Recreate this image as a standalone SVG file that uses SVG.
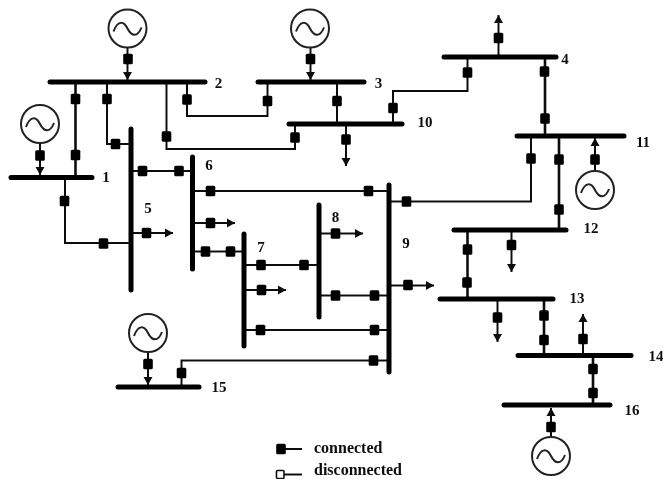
<svg xmlns="http://www.w3.org/2000/svg" xmlns:xlink="http://www.w3.org/1999/xlink" width="663" height="479" viewBox="0 0 663 479">
<style>
.bus{stroke:#000;stroke-width:5;stroke-linecap:round;fill:none}
.ln{stroke:#111;stroke-width:2;fill:none}
.ln2{stroke:#111;stroke-width:2.6;fill:none}
.ar{stroke:#111;stroke-width:2;fill:none;marker-end:url(#ah)}
.sw{fill:#000}
.gc{fill:#fff;stroke:#222;stroke-width:2}
.gw{fill:none;stroke:#222;stroke-width:2}
text{font-family:"Liberation Serif","Times New Roman",serif;font-weight:bold;font-size:15px;fill:#111;text-anchor:middle;dominant-baseline:central}
.lg{font-size:16px;text-anchor:start;dominant-baseline:alphabetic}
</style>
<defs>
<marker id="ah" markerUnits="userSpaceOnUse" markerWidth="10" markerHeight="10" refX="9" refY="5" orient="auto"><path d="M1,0.5 L9,5 L1,9.5 Z" fill="#111"/></marker>
<rect id="s" class="sw" x="-4.8" y="-5.2" width="9.6" height="10.4" rx="1.5"/>
<g id="g"><circle class="gc" r="19"/><path class="gw" d="M-14,3 C-10,-8 -4,-8 0,0 S10,9 14,-1"/></g>
<filter id="b" x="-2%" y="-2%" width="104%" height="104%"><feGaussianBlur stdDeviation="0.55"/></filter>
</defs>
<rect width="663" height="479" fill="#fff"/>
<g filter="url(#b)">
<g id="connectors">
<path class="ar" d="M127.5,47V80"/><path class="ar" d="M310.5,47V80"/><path class="ar" d="M40,143V175"/>
<path class="ln2" d="M75.5,82V177"/>
<path class="ln" d="M107,82V144H131"/>
<path class="ln" d="M187,82V116H267.5V82"/>
<path class="ln" d="M166.5,82V149H295V124"/>
<path class="ln" d="M65,177V243H131"/>
<path class="ln" d="M131,171H192"/>
<path class="ar" d="M131,233H173"/>
<path class="ln" d="M192,191H389"/>
<path class="ar" d="M192,223H235"/>
<path class="ln" d="M192,251.5H244"/>
<path class="ln" d="M244,265H319"/>
<path class="ar" d="M244,290H286"/>
<path class="ln" d="M244,330H389"/>
<path class="ar" d="M319,233.5H363"/>
<path class="ln" d="M319,295.5H389"/>
<path class="ar" d="M389,285.5H434"/>
<path class="ln" d="M389,201.5H531V136"/>
<path class="ln2" d="M559,136V230"/>
<path class="ar" d="M595,171V138"/>
<path class="ln2" d="M545,57V136"/>
<path class="ln" d="M467.5,57V91H393V124"/>
<path class="ar" d="M498.5,57V15"/>
<path class="ln" d="M337,82V124"/>
<path class="ar" d="M346,124V166"/>
<path class="ln" d="M389,360.5H181.5V387"/>
<path class="ar" d="M148,352V385"/>
<path class="ln2" d="M467.5,230V299"/>
<path class="ar" d="M511.5,230V272"/>
<path class="ar" d="M497.5,299V342"/>
<path class="ln2" d="M544,299V355"/>
<path class="ar" d="M583,355V314"/>
<path class="ln2" d="M593,355V405"/>
<path class="ar" d="M551,437V408"/>
<use href="#s" x="128" y="59"/><use href="#s" x="310.5" y="59"/><use href="#s" x="40" y="155.5"/>
<use href="#s" x="75.5" y="99"/><use href="#s" x="75.5" y="155"/>
<use href="#s" x="107" y="99"/><use href="#s" x="115.5" y="144"/>
<use href="#s" x="187" y="99.5"/><use href="#s" x="267.5" y="101"/>
<use href="#s" x="166.5" y="136.5"/><use href="#s" x="295" y="137.5"/>
<use href="#s" x="64.5" y="201"/><use href="#s" x="103.5" y="243.5"/>
<use href="#s" x="142.5" y="171"/><use href="#s" x="179" y="171"/>
<use href="#s" x="146.5" y="233"/>
<use href="#s" x="210.5" y="191"/><use href="#s" x="368.5" y="191"/>
<use href="#s" x="210.5" y="223"/>
<use href="#s" x="205.5" y="251.5"/><use href="#s" x="230.5" y="251.5"/>
<use href="#s" x="261" y="265"/><use href="#s" x="304" y="265"/>
<use href="#s" x="261.5" y="290"/>
<use href="#s" x="260.5" y="330"/><use href="#s" x="374.5" y="330"/>
<use href="#s" x="335.5" y="233.5"/>
<use href="#s" x="335.5" y="295.5"/><use href="#s" x="374.5" y="295.5"/>
<use href="#s" x="408" y="285"/>
<use href="#s" x="406.5" y="201.5"/><use href="#s" x="531" y="158.5"/>
<use href="#s" x="559" y="159.5"/><use href="#s" x="559" y="209.5"/>
<use href="#s" x="595" y="159.5"/>
<use href="#s" x="544.5" y="71.5"/><use href="#s" x="545" y="118.5"/>
<use href="#s" x="467.5" y="72.5"/><use href="#s" x="393" y="108"/>
<use href="#s" x="498.5" y="38"/>
<use href="#s" x="337" y="101"/><use href="#s" x="346" y="139.5"/>
<use href="#s" x="373.5" y="360.5"/><use href="#s" x="181.5" y="373"/>
<use href="#s" x="148" y="364"/>
<use href="#s" x="467.5" y="249.5"/><use href="#s" x="467" y="282.5"/>
<use href="#s" x="511.5" y="245"/><use href="#s" x="497.5" y="317.5"/>
<use href="#s" x="544" y="315.5"/><use href="#s" x="544" y="340"/>
<use href="#s" x="583" y="339"/>
<use href="#s" x="593" y="369"/><use href="#s" x="593" y="393"/>
<use href="#s" x="551" y="427"/>
</g>
<g id="bus1"><path class="bus" d="M11,177.5H92"/><text x="106" y="177">1</text></g>
<g id="bus2"><path class="bus" d="M50,82H205"/><text x="218.500" y="83">2</text></g>
<g id="bus3"><path class="bus" d="M258,82H364"/><text x="378.500" y="83">3</text></g>
<g id="bus4"><path class="bus" d="M444,57H556"/><text x="565" y="59">4</text></g>
<g id="bus5"><path class="bus" d="M131,129V290"/><text x="148" y="208">5</text></g>
<g id="bus6"><path class="bus" d="M192.500,157V269"/><text x="209" y="165">6</text></g>
<g id="bus7"><path class="bus" d="M244,234V346"/><text x="261" y="247">7</text></g>
<g id="bus8"><path class="bus" d="M319,205V317"/><text x="335.500" y="217">8</text></g>
<g id="bus9"><path class="bus" d="M389,185V372"/><text x="406" y="243">9</text></g>
<g id="bus10"><path class="bus" d="M289,124H402"/><text x="425" y="122">10</text></g>
<g id="bus11"><path class="bus" d="M517,136H624"/><text x="643" y="142">11</text></g>
<g id="bus12"><path class="bus" d="M454,230H566"/><text x="591" y="228">12</text></g>
<g id="bus13"><path class="bus" d="M440,299H553"/><text x="577" y="298">13</text></g>
<g id="bus14"><path class="bus" d="M518,355.500H631"/><text x="656" y="356">14</text></g>
<g id="bus15"><path class="bus" d="M118,387H199"/><text x="219" y="387">15</text></g>
<g id="bus16"><path class="bus" d="M504,405H610"/><text x="632" y="410">16</text></g>
<g id="gen1"><use href="#g" x="40" y="124"/></g>
<g id="gen2"><use href="#g" x="127.500" y="28.500"/></g>
<g id="gen3"><use href="#g" x="310" y="28.500"/></g>
<g id="gen11"><use href="#g" x="595" y="190"/></g>
<g id="gen15"><use href="#g" x="148" y="333"/></g>
<g id="gen16"><use href="#g" x="551" y="456"/></g>
<g id="legend">
<path class="ln" d="M281,449H302M281,474.500H302"/>
<use href="#s" x="281" y="449"/>
<rect x="276.500" y="470.500" width="7.500" height="8" rx="1" fill="#fff" stroke="#111" stroke-width="1.600"/>
<text class="lg" x="314" y="453">connected</text>
<text class="lg" x="314" y="475">disconnected</text>
</g>
</g>
</svg>
